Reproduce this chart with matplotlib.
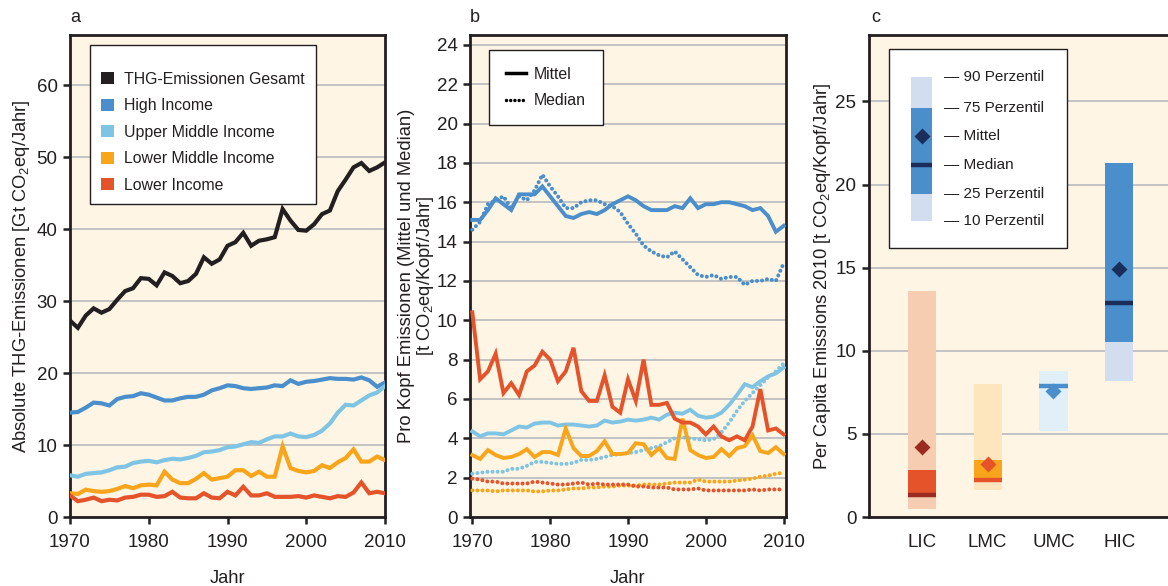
import matplotlib
matplotlib.use('Agg')
import matplotlib.pyplot as plt
from matplotlib.patches import Patch, Rectangle
from matplotlib.lines import Line2D

plt.rcParams['font.family'] = ['Liberation Sans', 'DejaVu Sans']
plt.rcParams['mathtext.fontset'] = 'custom'
plt.rcParams['mathtext.rm'] = 'Liberation Sans'
plt.rcParams['mathtext.it'] = 'Liberation Sans:italic'
plt.rcParams['mathtext.bf'] = 'Liberation Sans:bold'

# ---------------- data ----------------
years = list(range(1970, 2011))

# Panel a: absolute emissions (Gt CO2eq/yr)
total = [27.3, 26.3, 28.0, 29.0, 28.4, 28.9, 30.2, 31.4, 31.8, 33.2,
         33.1, 32.2, 34.0, 33.5, 32.5, 32.8, 33.8, 36.1, 35.2, 35.8,
         37.7, 38.2, 39.5, 37.7, 38.4, 38.6, 38.9, 42.8, 41.2, 39.9,
         39.8, 40.7, 42.1, 42.6, 45.3, 46.9, 48.6, 49.2, 48.1, 48.6, 49.3]
high_abs = [14.5, 14.6, 15.2, 15.9, 15.8, 15.5, 16.4, 16.7, 16.8, 17.2,
            17.0, 16.6, 16.2, 16.2, 16.5, 16.7, 16.7, 17.0, 17.6, 17.9,
            18.3, 18.2, 17.9, 17.8, 17.9, 18.0, 18.3, 18.2, 19.0, 18.5,
            18.8, 18.9, 19.1, 19.3, 19.2, 19.2, 19.1, 19.4, 19.0, 18.1, 18.7]
umc_abs = [5.8, 5.6, 6.0, 6.1, 6.2, 6.5, 6.9, 7.0, 7.5, 7.7,
           7.8, 7.6, 7.9, 8.1, 8.0, 8.2, 8.5, 9.0, 9.1, 9.3,
           9.7, 9.8, 10.1, 10.4, 10.3, 10.8, 11.2, 11.2, 11.6, 11.2,
           11.1, 11.4, 12.0, 13.0, 14.5, 15.6, 15.5, 16.2, 16.9, 17.3, 18.2]
lmc_abs = [3.3, 3.2, 3.8, 3.6, 3.5, 3.6, 3.9, 4.3, 4.0, 4.4,
           4.5, 4.4, 6.3, 5.2, 4.7, 4.7, 5.3, 6.1, 5.2, 5.4,
           5.6, 6.5, 6.5, 5.7, 6.3, 5.6, 5.6, 9.8, 6.8, 6.4,
           6.2, 6.4, 7.2, 6.8, 7.6, 8.2, 9.4, 7.7, 7.7, 8.4, 7.9]
lic_abs = [3.0, 2.2, 2.4, 2.7, 2.2, 2.4, 2.3, 2.7, 2.8, 3.1,
           3.1, 2.8, 2.9, 3.5, 2.7, 2.6, 2.6, 3.3, 2.7, 2.6,
           3.5, 3.0, 4.2, 3.0, 3.0, 3.3, 2.8, 2.8, 2.8, 2.9,
           2.7, 3.0, 2.8, 2.6, 2.9, 2.8, 3.4, 4.8, 3.3, 3.5, 3.3]
abs_labels = ['THG-Emissionen Gesamt', 'High Income', 'Upper Middle Income',
              'Lower Middle Income', 'Lower Income']

# Panel b: per capita mean and median (t CO2eq/cap/yr)
hic_mean = [15.1, 15.1, 15.6, 16.2, 15.9, 15.6, 16.4, 16.4, 16.4, 16.8,
            16.3, 15.8, 15.3, 15.2, 15.4, 15.5, 15.4, 15.6, 15.9, 16.1,
            16.3, 16.1, 15.8, 15.6, 15.6, 15.6, 15.8, 15.7, 16.2, 15.7,
            15.9, 15.9, 16.0, 16.0, 15.9, 15.8, 15.6, 15.7, 15.3, 14.5, 14.8]
hic_median = [14.6, 15.0, 15.9, 16.1, 16.3, 15.7, 16.3, 16.1, 16.6, 17.4,
              16.8, 16.3, 15.7, 15.7, 16.0, 16.1, 16.1, 15.9, 15.8, 15.5,
              14.9, 14.4, 13.8, 13.5, 13.3, 13.2, 13.5, 13.1, 12.7, 12.3,
              12.2, 12.3, 12.1, 12.2, 12.2, 11.8, 12.0, 12.0, 12.1, 12.0, 12.9]
lic_mean = [10.4, 7.0, 7.4, 8.3, 6.3, 6.8, 6.2, 7.4, 7.7, 8.4,
            8.0, 6.9, 7.4, 8.6, 6.4, 5.9, 5.9, 7.2, 5.6, 5.3,
            7.0, 5.9, 8.0, 5.7, 5.7, 5.8, 5.0, 4.8, 4.8, 4.6,
            4.2, 4.6, 4.1, 3.9, 4.1, 3.9, 4.6, 6.5, 4.4, 4.5, 4.2]
lic_median = [1.95, 1.9, 1.8, 1.8, 1.7, 1.7, 1.7, 1.7, 1.8, 1.75,
              1.7, 1.65, 1.65, 1.7, 1.75, 1.65, 1.7, 1.65, 1.65, 1.65,
              1.65, 1.55, 1.55, 1.5, 1.5, 1.5, 1.4, 1.4, 1.4, 1.45,
              1.35, 1.35, 1.35, 1.35, 1.35, 1.35, 1.4, 1.35, 1.4, 1.4, 1.4]
umc_mean = [4.35, 4.1, 4.25, 4.25, 4.2, 4.4, 4.6, 4.55, 4.75, 4.8,
            4.8, 4.65, 4.7, 4.7, 4.65, 4.6, 4.65, 4.9, 4.8, 4.85,
            4.95, 4.9, 4.95, 5.05, 4.95, 5.2, 5.3, 5.25, 5.45, 5.15,
            5.05, 5.1, 5.3, 5.7, 6.2, 6.75, 6.6, 6.9, 7.15, 7.3, 7.6]
umc_median = [2.2, 2.25, 2.3, 2.3, 2.3, 2.45, 2.45, 2.6, 2.8, 2.8,
              2.75, 2.7, 2.7, 2.75, 2.9, 2.9, 2.95, 3.05, 3.15, 3.2,
              3.25, 3.3, 3.4, 3.5, 3.6, 3.8, 4.0, 4.05, 4.0, 3.95,
              3.9, 3.95, 4.3, 4.8, 5.4, 5.9, 6.3, 6.7, 7.1, 7.4, 7.8]
lmc_mean = [3.15, 2.95, 3.4, 3.15, 3.0, 3.05, 3.2, 3.45, 3.05, 3.3,
            3.3, 3.15, 4.5, 3.5, 3.1, 3.1, 3.35, 3.85, 3.2, 3.2,
            3.25, 3.75, 3.7, 3.15, 3.5, 3.0, 2.95, 5.0, 3.4, 3.15,
            3.0, 3.05, 3.45, 3.1, 3.5, 3.6, 4.15, 3.35, 3.25, 3.55, 3.2]
lmc_median = [1.35, 1.35, 1.35, 1.3, 1.35, 1.35, 1.35, 1.35, 1.3, 1.3,
              1.35, 1.35, 1.4, 1.45, 1.45, 1.5, 1.5, 1.55, 1.55, 1.6,
              1.6, 1.6, 1.65, 1.65, 1.65, 1.7, 1.75, 1.75, 1.75, 1.9,
              1.8, 1.8, 1.8, 1.8, 1.85, 1.9, 1.95, 2.05, 2.1, 2.2, 2.25]
b_labels = ['Mittel', 'Median']

# Panel c: 2010 per capita distribution
groups = ['LIC', 'LMC', 'UMC', 'HIC']
p10 = [0.5, 1.6, 5.2, 8.2]
p25 = [1.2, 2.1, 5.2, 10.5]
p75 = [2.8, 3.4, 8.8, 21.3]
p90 = [13.6, 8.0, 8.8, 21.3]
medians = [1.35, 2.25, 7.9, 12.9]
means = [4.2, 3.2, 7.6, 14.9]
legend_levels = [26.45, 24.6, 22.95, 21.15, 19.45, 17.8]
legend_texts = ['90 Perzentil', '75 Perzentil', 'Mittel', 'Median',
                '25 Perzentil', '10 Perzentil']

# ---------------- style ----------------
BG = '#fef5e4'
GRID = '#bdbec0'
DARK = '#231f20'
C_BLACK = '#231f20'
C_HIC = '#4a8fcb'
C_UMC = '#80c4e4'
C_LMC = '#f9a51b'
C_LIC = '#e4532a'

c_outer = ['#f6cdb0', '#fde5bd', '#e1f0f8', '#d2ddef']
c_inner = [C_LIC, C_LMC, '#e1f0f8', C_HIC]
c_med = ['#9b2b20', C_LIC, C_HIC, '#1b2d5b']
c_mean = ['#9b2b20', C_LIC, C_HIC, '#1b2d5b']

FS = 13.2
TFS = 13.5
LFS = 11.4

fig = plt.figure(figsize=(11.68, 5.86), dpi=100)
W, H = 1168, 586


def make_ax(x0, x1, y0=35, y1=517):
    return fig.add_axes([x0 / W, (H - y1) / H, (x1 - x0) / W, (y1 - y0) / H])


def style(ax):
    ax.set_facecolor(BG)
    ax.grid(axis='y', color=GRID, lw=1.3, zorder=0)
    ax.set_axisbelow(True)
    for s in ax.spines.values():
        s.set_color(DARK)
        s.set_linewidth(2.0)
    ax.tick_params(axis='both', labelsize=TFS, colors=DARK, width=1.8,
                   length=5, direction='out')
    ax.tick_params(axis='x', pad=7)
    ax.tick_params(axis='y', pad=4)


def xlab(x0, x1, text):
    fig.text((x0 + x1) / 2 / W, 1 - 583 / H, text, fontsize=FS, ha='center',
             va='baseline', color=DARK)


# ---------- Panel a ----------
ax1 = make_ax(70, 385)
style(ax1)
series_a = [total, high_abs, umc_abs, lmc_abs, lic_abs]
cols_a = [C_BLACK, C_HIC, C_UMC, C_LMC, C_LIC]
for s, c in zip(series_a, cols_a):
    ax1.plot(years, s, color=c, lw=3.0, solid_joinstyle='miter', zorder=3)
ax1.set_xlim(1970, 2010)
ax1.set_ylim(0, 67)
ax1.set_yticks(range(0, 61, 10))
ax1.set_xticks(range(1970, 2011, 10))
xlab(70, 385, 'Jahr')
ax1.set_ylabel('Absolute THG-Emissionen [Gt CO$_2$eq/Jahr]', fontsize=FS, labelpad=3,
               color=DARK)
handles_a = [Patch(facecolor=c, edgecolor='none') for c in cols_a]
leg1 = ax1.legend(handles_a, abs_labels, loc='upper left',
                  bbox_to_anchor=(20 / 315, 1 - 10 / 482), fontsize=LFS,
                  frameon=True, fancybox=False, edgecolor=DARK, framealpha=1,
                  handlelength=0.8, handleheight=0.8, handletextpad=0.65,
                  labelspacing=0.73, borderpad=0.7, borderaxespad=0,
                  title=' ', title_fontsize=2)
leg1.get_frame().set_linewidth(1.0)
for t in leg1.get_texts():
    t.set_color(DARK)
fig.text(70 / W, 1 - 17 / H, 'a', fontsize=13, va='center', ha='left', color=DARK)

# ---------- Panel b ----------
ax2 = make_ax(470, 786)
style(ax2)
dot = dict(lw=2.9, linestyle=(0, (0.01, 1.25)), dash_capstyle='round', zorder=3)
sol = dict(lw=2.8, solid_joinstyle='miter', zorder=3)
ax2.plot(years, hic_mean, color=C_HIC, **sol)
ax2.plot(years, hic_median, color=C_HIC, **dot)
ax2.plot(years, umc_mean, color=C_UMC, **sol)
ax2.plot(years, umc_median, color=C_UMC, **dot)
ax2.plot(years, lmc_mean, color=C_LMC, **sol)
ax2.plot(years, lmc_median, color=C_LMC, **dot)
ax2.plot(years, lic_mean, color=C_LIC, **sol)
ax2.plot(years, lic_median, color=C_LIC, **dot)
ax2.set_xlim(1969.7, 2010.3)
ax2.set_ylim(0, 24.5)
ax2.set_yticks(range(0, 25, 2))
ax2.set_xticks(range(1970, 2011, 10))
xlab(470, 786, 'Jahr')
ax2.set_ylabel('Pro Kopf Emissionen (Mittel und Median)\n[t CO$_2$eq/Kopf/Jahr]',
               fontsize=FS, labelpad=0, linespacing=1.05, color=DARK)
handles_b = [Line2D([], [], color='black', lw=2.5),
             Line2D([], [], color='black', lw=2.5, linestyle=(0, (0.01, 1.2)),
                    dash_capstyle='round')]
leg2 = ax2.legend(handles_b, b_labels, loc='upper left',
                  bbox_to_anchor=(19 / 316, 1 - 15 / 482), fontsize=LFS,
                  frameon=True, fancybox=False, edgecolor=DARK, framealpha=1,
                  handlelength=1.3, handletextpad=0.5, labelspacing=0.73,
                  borderpad=1.05, borderaxespad=0)
leg2.get_frame().set_linewidth(1.0)
for t in leg2.get_texts():
    t.set_color(DARK)
fig.text(470 / W, 1 - 17 / H, 'b', fontsize=13, va='center', ha='left', color=DARK)

# ---------- Panel c ----------
ax3 = make_ax(869, 1168)
style(ax3)
ax3.spines['right'].set_visible(False)
xpos = [1, 2, 3, 4]
bw = 0.43
for i, x in enumerate(xpos):
    ax3.bar(x, p90[i] - p10[i], bottom=p10[i], width=bw, color=c_outer[i],
            edgecolor='none', zorder=2)
    ax3.bar(x, p75[i] - p25[i], bottom=p25[i], width=bw, color=c_inner[i],
            edgecolor='none', zorder=2)
    ax3.hlines(medians[i], x - bw / 2, x + bw / 2, color=c_med[i], lw=3.2, zorder=3)
    ax3.plot(x, means[i], marker='D', ms=8, color=c_mean[i], mec='none', zorder=4)
ax3.set_xlim(0.197, 4.74)
ax3.set_ylim(0, 29)
ax3.set_yticks(range(0, 26, 5))
ax3.set_xticks(xpos)
ax3.set_xticklabels(groups)
ax3.tick_params(axis='x', length=0, pad=12)
ax3.set_ylabel('Per Capita Emissions 2010 [t CO$_2$eq/Kopf/Jahr]', fontsize=FS,
               labelpad=2, color=DARK)

# custom legend for panel c
ax3.add_patch(Rectangle((0.5, 16.2), 2.7, 11.93, facecolor='white',
                        edgecolor=DARK, lw=1.0, zorder=5))
lx, lw_ = 1.0, 0.32
ax3.add_patch(Rectangle((lx - lw_ / 2, legend_levels[5]), lw_,
                        legend_levels[0] - legend_levels[5],
                        facecolor='#d2ddef', edgecolor='none', zorder=6))
ax3.add_patch(Rectangle((lx - lw_ / 2, legend_levels[4]), lw_,
                        legend_levels[1] - legend_levels[4],
                        facecolor=C_HIC, edgecolor='none', zorder=6))
ax3.hlines(legend_levels[3], lx - lw_ / 2, lx + lw_ / 2, color='#1b2d5b', lw=3.2, zorder=7)
ax3.plot(lx, legend_levels[2], marker='D', ms=8, color='#1b2d5b', mec='none', zorder=8)
for yv, t in zip(legend_levels, legend_texts):
    ax3.text(1.33, yv, '\u2014 ' + t, fontsize=11, va='center', ha='left',
             color=DARK, zorder=8)
fig.text(871 / W, 1 - 17 / H, 'c', fontsize=13, va='center', ha='left', color=DARK)

fig.savefig('out.png', dpi=100, facecolor='white')
